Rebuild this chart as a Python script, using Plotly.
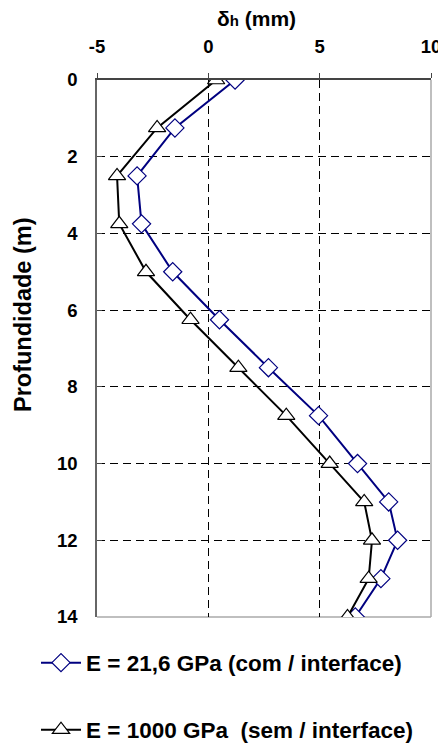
import plotly.graph_objects as go

depth = [0, 1.25, 2.5, 3.75, 5, 6.25, 7.5, 8.75, 10, 11, 12, 13, 14]
delta_com = [1.2, -1.5, -3.2, -3.0, -1.6, 0.5, 2.7, 4.95, 6.7, 8.1, 8.5, 7.75, 6.6]
delta_sem = [0.35, -2.3, -4.1, -4.0, -2.8, -0.8, 1.35, 3.5, 5.45, 7.0, 7.35, 7.2, 6.25]
name_com = "E = 21,6 GPa (com / interface)"
name_sem = "E = 1000 GPa&nbsp;&nbsp;(sem / interface)"
x_ticks = [-5, 0, 5, 10]
y_ticks = [0, 2, 4, 6, 8, 10, 12, 14]
x_title = "δ<span style='font-size:15px'>h</span> (mm)"
y_title = "Profundidade (m)"

FAM = "Liberation Sans, Arial, sans-serif"

def bfont(size):
    return dict(family=FAM, size=size, color="black", weight="bold")

fig = go.Figure()
fig.add_trace(go.Scatter(
    x=delta_com, y=depth, mode="lines+markers", name=name_com, legend="legend",
    line=dict(color="#000080", width=2),
    marker=dict(symbol="diamond", size=14, color="white",
                line=dict(color="#000080", width=1.2)),
))
fig.add_trace(go.Scatter(
    x=delta_sem, y=depth, mode="lines+markers", name=name_sem, legend="legend2",
    line=dict(color="black", width=2),
    marker=dict(symbol="triangle-up", size=15, color="white",
                line=dict(color="black", width=1.2)),
))

# right and bottom border (grey)
fig.add_shape(type="line", xref="x domain", yref="y domain", x0=1, x1=1, y0=0, y1=1,
              line=dict(color="#aaaaaa", width=1.5), layer="below")
fig.add_shape(type="line", xref="x domain", yref="y domain", x0=0, x1=1, y0=0, y1=0,
              line=dict(color="#aaaaaa", width=1.5), layer="below")

# page body has an 8px margin; screen plot area: x 97..431, y 80..617
OFF = 8
SW, SH = 446, 749
L, R, T, B = 97, 431, 80, 617
W, H = R - L, B - T

def px_x(p):
    return (p - L) / W

def px_y(p):
    return (B - p) / H

fig.add_annotation(text=x_title, xref="paper", yref="paper", x=px_x(256), y=px_y(18),
                   showarrow=False, font=bfont(21), xanchor="center", yanchor="middle")
fig.add_annotation(text=y_title, xref="paper", yref="paper", x=px_x(23), y=px_y(315),
                   showarrow=False, font=bfont(23.5), textangle=-90,
                   xanchor="center", yanchor="middle")

leg_common = dict(xanchor="left", yanchor="middle", font=bfont(22.5), itemwidth=40,
                  bgcolor="rgba(0,0,0,0)", borderwidth=0)
fig.update_layout(
    width=SW - OFF, height=SH - OFF,
    margin=dict(l=L - OFF, r=SW - R, t=T - OFF, b=SH - B, autoexpand=False),
    paper_bgcolor="white", plot_bgcolor="white",
    font=bfont(18),
    showlegend=True,
    legend=dict(x=px_x(36), y=px_y(663), **leg_common),
    legend2=dict(x=px_x(36), y=px_y(730), **leg_common),
    xaxis=dict(
        side="top", range=[-5, 10], tickvals=x_ticks, ticktext=[str(v) for v in x_ticks],
        tickfont=bfont(18.5), automargin=False,
        showline=True, linecolor="#444444", linewidth=1.5,
        ticks="outside", ticklen=5, tickcolor="#444444", ticklabelstandoff=13,
        showgrid=True, gridcolor="black", griddash="8px,5px", gridwidth=1,
        zeroline=False, fixedrange=True,
    ),
    yaxis=dict(
        range=[14, 0], tickvals=y_ticks, ticktext=[str(v) for v in y_ticks],
        tickfont=bfont(18.5), automargin=False,
        showline=True, linecolor="#666666", linewidth=1.5,
        ticks="inside", ticklen=5, tickcolor="#444444", ticklabelstandoff=14,
        showgrid=True, gridcolor="black", griddash="8px,5px", gridwidth=1,
        zeroline=False, fixedrange=True,
    ),
)

fig.write_html("out.html")
